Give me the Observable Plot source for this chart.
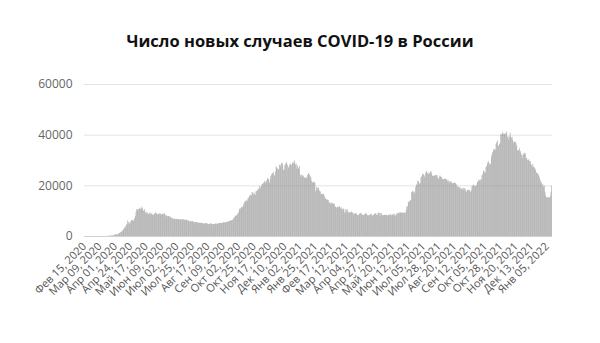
<!DOCTYPE html>
<html>
<head>
<meta charset="utf-8">
<script src="https://cdn.jsdelivr.net/npm/d3@7"></script>
<script src="https://cdn.jsdelivr.net/npm/@observablehq/plot@0.6"></script>
<style>
  html, body { margin: 0; padding: 0; background: #fff; }
  #title { box-sizing: border-box; height: 70px; padding-top: 31px; width: 600px; text-align: center;
           font-family: "Open Sans", sans-serif; font-weight: 700; font-size: 16.5px; color: #111; line-height: 20px; }
  #chart svg { display: block; }
</style>
</head>
<body>
<div id="title">Число новых случаев COVID-19 в России</div>
<div id="chart"></div>
<script>
// Daily new cases, in hundreds of cases, starting 2020-02-15
const startDate = "2020-02-15";
const cases2020 = [
  // Feb 15-29
  0,0,0,0,0,0,0,0,0,0,0,0,0,0,0,
  // Mar
  0,0,0,0,0,0,0,0,0,0,0,0,0,0,0,0,0,0,0,0,1,1,1,1,2,2,2,2,3,3,5,
  // Apr
  8,6,6,6,7,10,12,12,15,18,17,22,26,28,34,34,41,48,61,43,56,52,48,58,60,64,62,64,58,71,
  // May
  79,96,106,106,101,106,112,107,108,110,117,109,100,100,106,92,97,89,93,88,88,89,94,86,89,89,83,84,86,90,93,
  // Jun
  90,89,85,88,87,89,90,86,84,88,88,87,90,88,82,82,78,78,80,79,77,76,74,72,71,68,69,68,67,67,
  // Jul
  66,68,67,66,67,66,64,66,65,66,66,66,65,62,64,64,64,62,61,59,58,59,58,58,59,58,56,55,55,55,55,
  // Aug
  54,55,52,52,53,52,52,52,51,51,49,49,51,51,51,50,48,47,48,48,49,49,49,47,47,47,47,48,50,49,47,
  // Sep
  50,50,51,52,52,52,51,52,54,54,54,54,55,55,55,57,58,59,61,61,62,62,64,66,72,75,79,81,82,85,
  // Oct
  89,94,105,109,109,116,111,115,121,128,136,136,139,142,138,149,152,160,157,163,160,173,171,165,173,166,162,177,177,183,181,
  // Nov
  187,198,186,194,198,206,205,210,210,218,210,216,220,227,228,224,210,222,236,243,246,248,252,243,237,255,275,271,267,263,
  // Dec
  264,281,282,274,288,290,281,261,262,279,286,294,286,281,267,273,282,286,282,281,286,293,288,299,290,283,285,265,278,270,265
];
const cases2021 = [
  // Jan
  277,242,234,242,237,242,235,229,233,229,229,233,241,248,247,241,236,229,217,212,211,215,213,209,176,193,182,191,192,184,177,
  // Feb
  176,167,165,166,167,166,159,149,149,145,145,142,142,132,132,128,134,127,130,130,126,127,117,115,112,114,115,116,
  // Mar
  114,118,110,114,106,106,105,110,94,106,91,104,106,96,93,93,94,94,96,93,93,91,85,88,91,91,87,83,83,83,88,
  // Apr
  88,91,90,86,83,83,83,87,87,92,87,82,83,82,83,83,88,87,81,81,83,87,87,90,90,83,83,90,93,91,
  // May
  78,91,90,82,83,83,83,84,83,84,82,82,82,84,82,86,86,82,82,86,86,89,82,82,82,89,90,90,91,93,93,
  // Jun
  93,93,93,90,93,93,90,93,104,117,117,134,135,137,142,141,173,176,179,174,167,176,194,202,204,217,217,210,206,210,
  // Jul
  232,235,244,244,244,234,240,251,258,251,247,244,251,247,253,257,248,238,238,238,237,241,241,239,241,233,224,230,238,238,233,
  // Aug
  233,226,224,224,226,227,224,225,222,216,219,210,216,216,216,210,208,210,209,211,210,208,204,196,196,195,189,193,190,183,188,
  // Sep
  188,190,183,189,186,178,175,183,181,183,182,178,175,179,196,199,203,202,197,197,199,202,214,214,221,222,216,224,222,239,
  // Oct
  245,258,258,251,251,272,276,286,294,294,282,287,285,313,322,332,343,337,343,341,363,371,377,357,357,364,366,401,401,403,410,
  // Nov
  404,404,404,402,407,413,392,394,381,392,408,393,388,392,379,368,374,372,371,366,357,340,336,339,347,336,329,321,307,321,
  // Dec
  326,329,321,326,307,308,299,299,303,296,296,285,280,274,285,274,271,267,262,250,251,247,243,238,230,220,210,211,200,205,195
];
const cases2022 = [
  // Jan 1-12
  198,175,162,154,152,152,153,154,151,158,175,199
];

const yTicks = [0, 20000, 40000, 60000];
const tickDates = ["2020-02-15","2020-03-09","2020-04-01","2020-04-24","2020-05-17","2020-06-09","2020-07-02","2020-07-25",
  "2020-08-17","2020-09-09","2020-10-02","2020-10-25","2020-11-17","2020-12-10","2021-01-02","2021-01-25","2021-02-17",
  "2021-03-12","2021-04-04","2021-04-27","2021-05-20","2021-06-12","2021-07-05","2021-07-28","2021-08-20","2021-09-12",
  "2021-10-05","2021-10-28","2021-11-20","2021-12-13","2022-01-05"];
const tickLabels = ["Фев 15, 2020","Мар 09, 2020","Апр 01, 2020","Апр 24, 2020","Май 17, 2020","Июн 09, 2020","Июл 02, 2020",
  "Июл 25, 2020","Авг 17, 2020","Сен 09, 2020","Окт 02, 2020","Окт 25, 2020","Ноя 17, 2020","Дек 10, 2020","Янв 02, 2021",
  "Янв 25, 2021","Фев 17, 2021","Мар 12, 2021","Апр 04, 2021","Апр 27, 2021","Май 20, 2021","Июн 12, 2021","Июл 05, 2021",
  "Июл 28, 2021","Авг 20, 2021","Сен 12, 2021","Окт 05, 2021","Окт 28, 2021","Ноя 20, 2021","Дек 13, 2021","Янв 05, 2022"];

const all = [...cases2020, ...cases2021, ...cases2022];
const start = new Date(startDate + "T00:00:00Z");
const data = all.map((v, i) => ({date: d3.utcDay.offset(start, i), value: v * 100}));
const tickDateObjs = tickDates.map(s => new Date(s + "T00:00:00Z"));
const labelMap = new Map(tickDateObjs.map((d, i) => [+d, tickLabels[i]]));
const endDate = d3.utcDay.offset(start, all.length);

const chart = Plot.plot({
  width: 600,
  height: 273,
  marginTop: 14,
  marginBottom: 107,
  marginLeft: 84,
  marginRight: 48,
  style: {fontFamily: "Open Sans, sans-serif", background: "#fff"},
  x: {type: "utc", domain: [start, endDate], label: null},
  y: {domain: [0, 60000], label: null},
  marks: [
    Plot.gridY(yTicks, {stroke: "#e3e3e3", strokeOpacity: 1}),
    Plot.rectY(data, {x: "date", interval: d3.utcDay, y: "value", fill: "#959595", insetLeft: 0.08, insetRight: 0.08}),
    Plot.ruleY([0], {stroke: "#c9d3dd"}),
    Plot.axisY(yTicks, {tickSize: 0, tickPadding: 12, fontSize: 12, fill: "#666", tickFormat: d => String(d), label: null}),
    Plot.axisX(tickDateObjs, {tickSize: 0, tickPadding: 8, tickRotate: -45, fontSize: 11, fill: "#555",
      tickFormat: d => labelMap.get(+d), label: null})
  ]
});
document.getElementById("chart").appendChild(chart);
</script>
</body>
</html>
